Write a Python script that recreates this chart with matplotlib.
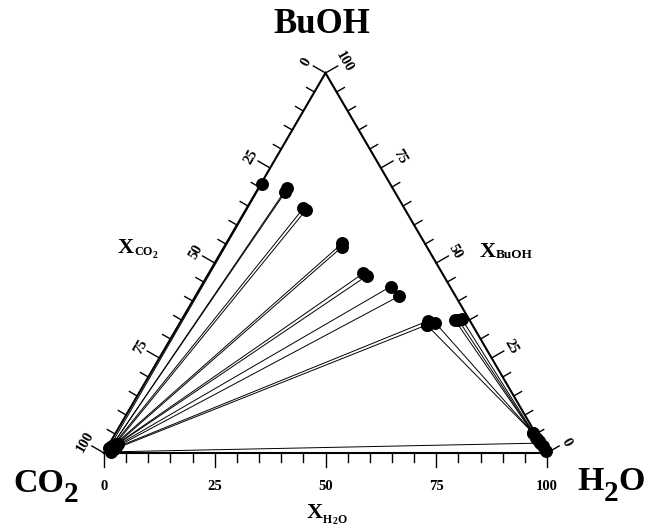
import matplotlib
matplotlib.use('Agg')
import matplotlib.pyplot as plt
import numpy as np
from matplotlib.transforms import IdentityTransform

# ---------------- data (mole %, x_CO2 = 100 - x_H2O - x_BuOH) ----------------
# tie lines: phase A end  <->  phase B end
tieA_h2o  = [0.2, 6.6, 6.4, 12.8, 13.6, 26.2, 26.6, 34.9, 36.0, 42.8, 46.0, 55.8, 56.0,
             56.0, 57.6, 61.7, 62.5, 63.2, 1.5]
tieA_buoh = [70.8, 68.6, 69.7, 64.4, 63.9, 55.2, 54.2, 47.3, 46.6, 43.8, 41.3, 34.8, 33.7,
             33.7, 34.3, 35.0, 35.0, 35.2, 0.3]
tieB_h2o  = [0.5, 0.8, 0.8, 1.0, 1.4, 1.2, 1.6, 1.5, 1.9, 1.8, 2.0, 1.6, 1.8,
             94.3, 94.3, 95.5, 96.0, 96.5, 97.1]
tieB_buoh = [1.2, 1.5, 1.5, 1.8, 2.4, 2.0, 2.2, 2.0, 2.3, 1.8, 1.6, 1.2, 1.0,
             5.2, 5.2, 4.0, 3.6, 3.2, 2.6]
# extra measured points in the water-rich corner
aq_h2o  = [98.2, 99.5]
aq_buoh = [1.8, 0.5]

ticks = list(range(0, 101, 5))
major_ticks = [0, 25, 50, 75, 100]
corner_names = ["CO", "H", "BuOH"]

# ---------------- figure / geometry ----------------
W, H = 651, 529
fig = plt.figure(figsize=(W / 100, H / 100), dpi=100)
ax = fig.add_axes([0, 0, 1, 1])
X0, Y0, SX, SY = 104, 453, 443, 380
ax.set_xlim(-X0 / SX, (W - X0) / SX)
ax.set_ylim((Y0 - H) / SY, Y0 / SY)
ax.axis('off')

SERIF = 'Liberation Serif'


def tern(h, b):
    h = np.asarray(h, float) / 100
    b = np.asarray(b, float) / 100
    return h + b / 2, b


def off(dx, dy):
    return dx / SX, -dy / SY


def to_px(x, y):
    return X0 + SX * x, Y0 - SY * y


# triangle
tx, ty = tern([0, 100, 0, 0], [0, 0, 100, 0])
ax.plot(tx, ty, color='k', lw=1.5, solid_joinstyle='miter', zorder=3)

# ticks and tick labels
c30, s30 = np.cos(np.radians(30)), np.sin(np.radians(30))
sides = [
    (lambda v: (v, 0), (0.0, 1.0), 0, 33.5),          # X_H2O bottom
    (lambda v: (0, 100 - v), (-c30, -s30), 60, 22),  # X_CO2 left
    (lambda v: (100 - v, v), (c30, -s30), -60, 22),  # X_BuOH right
]
for fn, (nx, ny), rot, dist in sides:
    for v in ticks:
        h, b = fn(v)
        x, y = tern(h, b)
        L = 14 if v in major_ticks else 9
        dx, dy = off(nx * L, ny * L)
        ax.plot([x, x + dx], [y, y + dy], color='k', lw=1.0, zorder=3)
        if v in major_ticks:
            px, py = to_px(x, y)
            fig.text(px + nx * dist, H - (py + ny * dist), str(v),
                     transform=IdentityTransform(), rotation=rot,
                     ha='center', va='center', fontsize=10.5,
                     family=SERIF, weight='bold')

# tie lines
for ah, ab, bh, bb in zip(tieA_h2o, tieA_buoh, tieB_h2o, tieB_buoh):
    xs, ys = tern([ah, bh], [ab, bb])
    ax.plot(xs, ys, color='k', lw=0.7, zorder=2)

# markers
mx, my = tern(tieA_h2o + tieB_h2o + aq_h2o, tieA_buoh + tieB_buoh + aq_buoh)
ax.plot(mx, my, 'o', ms=8.3, color='k', mec='k', zorder=4, clip_on=False)

# ---------------- text pieces ----------------
renderer = fig.canvas.get_renderer()


def seq(x, y, pieces):
    for s, size, dy in pieces:
        t = fig.text(x, H - (y + dy), s, transform=IdentityTransform(),
                     fontsize=size, family=SERIF, weight='bold',
                     ha='left', va='baseline')
        bb = t.get_window_extent(renderer)
        x = bb.x1


seq(273, 33, [(corner_names[2], 25, 0)])
seq(13, 492, [(corner_names[0], 24.5, 0), ("2", 21, 10)])
seq(577, 490, [(corner_names[1], 24.5, 0), ("2", 21, 11), ("O", 24.5, 0)])
seq(118, 253, [("X", 16, 0), ("CO", 8.7, 2), ("2", 7, 5)])
seq(480, 257, [("X", 16, 0), ("BuOH", 9.5, 1.5)])
seq(307, 518, [("X", 16, 0), ("H", 8.5, 5), ("2", 7, 5.5), ("O", 8.5, 5)])

fig.savefig('out.png', dpi=100)
